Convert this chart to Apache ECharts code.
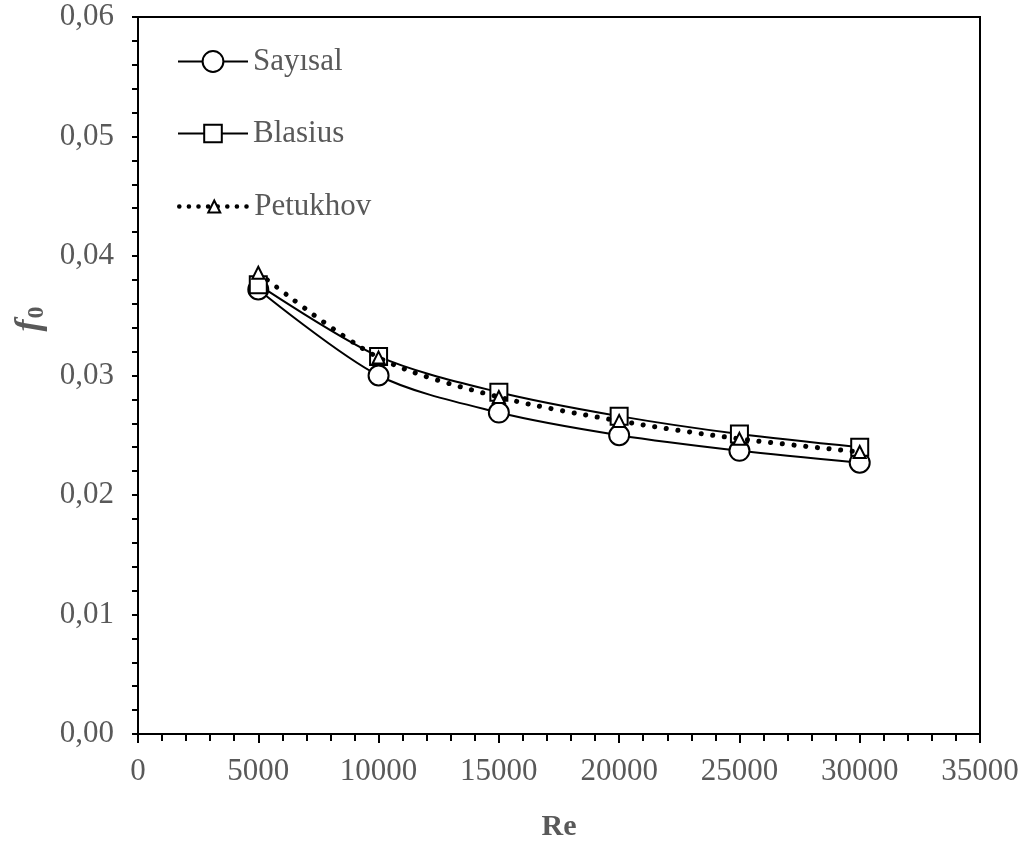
<!DOCTYPE html>
<html>
<head>
<meta charset="utf-8">
<script src="https://cdn.jsdelivr.net/npm/echarts@6/dist/echarts.min.js"></script>
<style>
html,body{margin:0;padding:0;background:#fff;}
#chart{width:1032px;height:848px;}
</style>
</head>
<body>
<div id="chart"></div>
<script>
const reValues = [5000, 10000, 15000, 20000, 25000, 30000];
const sayisal = [0.0372, 0.0300, 0.0269, 0.0250, 0.0237, 0.0227];
const blasius = [0.0376, 0.0316, 0.0286, 0.0266, 0.0251, 0.0240];
const petukhov = [0.0386, 0.0315, 0.0282, 0.0262, 0.0247, 0.0236];
const seriesNames = ['Sayısal', 'Blasius', 'Petukhov'];
const xTicks = { min: 0, max: 35000, interval: 5000 };
const yTicks = { min: 0, max: 0.06, interval: 0.01 };

const FONT = 'Liberation Serif';
const GRAY = '#595959';
const pairs = arr => reValues.map((x, i) => [x, arr[i]]);

const legendText = { fontFamily: FONT, fontSize: 31, color: GRAY };
function mkLegend(name, top, itemHeight, lineStyle) {
  return {
    orient: 'vertical', left: 177, top: top, padding: 0,
    itemWidth: 70, itemHeight: itemHeight, itemGap: 0,
    textStyle: legendText,
    lineStyle: lineStyle,
    data: [name]
  };
}

const chart = echarts.init(document.getElementById('chart'), null, { renderer: 'canvas' });
chart.setOption({
  animation: false,
  backgroundColor: '#fff',
  grid: { left: 138, right: 52, top: 17, bottom: 114, show: true, borderColor: '#000', borderWidth: 2, backgroundColor: 'transparent' },
  legend: [
    mkLegend(seriesNames[0], 46, 26, { width: 2, color: '#000' }),
    mkLegend(seriesNames[1], 118, 22, { width: 2, color: '#000' }),
    mkLegend(seriesNames[2], 191, 15, { width: 4.5, color: '#000', type: [0.1, 9.5], cap: 'round' })
  ],
  xAxis: {
    type: 'value',
    min: xTicks.min, max: xTicks.max, interval: xTicks.interval,
    name: 'Re',
    nameLocation: 'middle',
    nameGap: 78,
    nameTextStyle: { fontFamily: FONT, fontSize: 30, fontWeight: 'bold', color: GRAY },
    axisLine: { show: true, onZero: false, lineStyle: { color: '#000', width: 2 } },
    axisTick: { show: true, inside: false, length: 9, lineStyle: { color: '#000', width: 2 } },
    minorTick: { show: true, splitNumber: 5, length: 7, lineStyle: { color: '#000', width: 2 } },
    splitLine: { show: false },
    axisLabel: { fontFamily: FONT, fontSize: 31, color: GRAY, margin: 22, formatter: v => String(v) }
  },
  yAxis: {
    type: 'value',
    min: yTicks.min, max: yTicks.max, interval: yTicks.interval,
    axisLine: { show: true, onZero: false, lineStyle: { color: '#000', width: 2 } },
    axisTick: { show: true, inside: false, length: 6, lineStyle: { color: '#000', width: 2 } },
    minorTick: { show: true, splitNumber: 5, length: 6, lineStyle: { color: '#000', width: 2 } },
    splitLine: { show: false },
    axisLabel: {
      fontFamily: FONT, fontSize: 31, color: GRAY, margin: 24,
      formatter: v => v.toFixed(2).replace('.', ',')
    }
  },
  graphic: [{
    type: 'text',
    x: 30, y: 319,
    rotation: Math.PI / 2,
    style: {
      text: '{a|f}{b|0}',
      align: 'center',
      verticalAlign: 'middle',
      rich: {
        a: { fontFamily: FONT, fontSize: 36, fontStyle: 'italic', fontWeight: 'bold', fill: GRAY },
        b: { fontFamily: FONT, fontSize: 24, fontWeight: 'bold', fill: GRAY, padding: [14, 0, 0, 1] }
      }
    }
  }],
  series: [
    {
      name: seriesNames[0], type: 'line', data: pairs(sayisal), smooth: 0.3,
      symbol: 'circle', symbolSize: 20,
      lineStyle: { color: '#000', width: 2 },
      itemStyle: { color: '#fff', borderColor: '#000', borderWidth: 2 },
      z: 2
    },
    {
      name: seriesNames[1], type: 'line', data: pairs(blasius), smooth: 0.3,
      symbol: 'rect', symbolSize: 17,
      lineStyle: { color: '#000', width: 2 },
      itemStyle: { color: '#fff', borderColor: '#000', borderWidth: 2 },
      z: 3
    },
    {
      name: seriesNames[2], type: 'line', data: pairs(petukhov), smooth: 0.3,
      symbol: 'triangle', symbolSize: 12,
      lineStyle: { color: '#000', width: 5, type: [0.1, 11.6], cap: 'round' },
      itemStyle: { color: '#fff', borderColor: '#000', borderWidth: 2 },
      z: 4
    }
  ]
});
</script>
</body>
</html>
